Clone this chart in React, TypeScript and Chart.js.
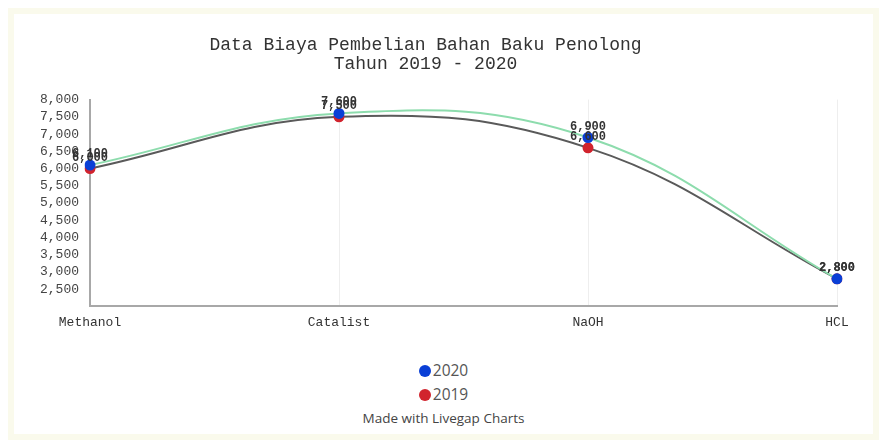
import React, { useEffect, useRef } from "react";
import { Chart, registerables } from "chart.js";

Chart.register(...registerables);

const categories = ["Methanol", "Catalist", "NaOH", "HCL"];
const values2020 = [6100, 7600, 6900, 2800];
const values2019 = [6000, 7500, 6600, 2800];
const seriesNames = ["2020", "2019"];
const titleLines = ["Data Biaya Pembelian Bahan Baku Penolong", "Tahun 2019 - 2020"];
const footerText = "Made with Livegap Charts";

const MONO = "'Liberation Mono', 'Courier New', monospace";

const fmt = (v: number) => v.toLocaleString("en-US");

const valueLabels = {
  id: "valueLabels",
  afterDatasetsDraw(chart: any) {
    const ctx = chart.ctx;
    ctx.save();
    ctx.font = `bold 12px ${MONO}`;
    ctx.fillStyle = "#333";
    ctx.textAlign = "center";
    ctx.textBaseline = "bottom";
    for (let i = chart.data.datasets.length - 1; i >= 0; i--) {
      const meta = chart.getDatasetMeta(i);
      meta.data.forEach((pt: any, j: number) => {
        const v = chart.data.datasets[i].data[j] as number;
        ctx.fillText(fmt(v), pt.x, pt.y - 5);
      });
    }
    ctx.restore();
  },
};

export default function App() {
  const ref = useRef<HTMLCanvasElement>(null);
  useEffect(() => {
    if (!ref.current) return;
    const chart = new Chart(ref.current, {
      type: "line",
      data: {
        labels: categories,
        datasets: [
          {
            label: seriesNames[0],
            data: values2020,
            borderColor: "#8ddcad",
            backgroundColor: "#0a3fd6",
            pointBackgroundColor: "#0a3fd6",
            pointBorderWidth: 0,
            pointRadius: 5.5,
            borderWidth: 2,
            tension: 0.4,
            fill: false,
          },
          {
            label: seriesNames[1],
            data: values2019,
            borderColor: "#5a5a5a",
            backgroundColor: "#d1232d",
            pointBackgroundColor: "#d1232d",
            pointBorderWidth: 0,
            pointRadius: 5.5,
            borderWidth: 2,
            tension: 0.4,
            fill: false,
          },
        ],
      },
      options: {
        responsive: false,
        animation: false,
        layout: { padding: { left: 0, right: 36, top: 0, bottom: 0 } },
        plugins: {
          legend: { display: false },
          tooltip: { enabled: false },
          title: {
            display: true,
            text: titleLines,
            color: "#333",
            font: { family: MONO, size: 18, weight: "normal", lineHeight: 1.1 },
            padding: { top: 21, bottom: 25 },
          },
        },
        scales: {
          x: {
            offset: false,
            grid: { display: true, color: "#eeeeee", drawTicks: false },
            border: { display: true, color: "#a8a8a8", width: 2 },
            ticks: {
              color: "#333",
              font: { family: MONO, size: 13 },
              padding: 8,
              maxRotation: 0,
            },
          },
          y: {
            min: 2000,
            max: 8000,
            grid: { display: false, drawTicks: false },
            border: { display: true, color: "#a8a8a8", width: 2 },
            afterFit: (s: any) => {
              s.width = 76;
            },
            ticks: {
              stepSize: 500,
              autoSkip: false,
              color: "#444",
              font: { family: MONO, size: 13 },
              padding: 11,
              callback: (v: any) => (Number(v) === 2000 ? "" : fmt(Number(v))),
            },
          },
        },
      },
      plugins: [valueLabels],
    });
    return () => chart.destroy();
  }, []);

  const dot = (c: string) => (
    <span
      style={{
        display: "inline-block",
        width: 12,
        height: 12,
        borderRadius: "50%",
        background: c,
        marginRight: 2,
        verticalAlign: "-1px",
      }}
    />
  );

  return (
    <div style={{ border: "6px solid #fafaec", background: "#fff", width: 859, height: 420 }}>
      <canvas ref={ref} width={859} height={324} style={{ display: "block" }} />
      <div
        style={{
          fontFamily: "'Open Sans', sans-serif",
          color: "#555",
          textAlign: "center",
          fontSize: 15.5,
          lineHeight: "24px",
          marginTop: 20,
        }}
      >
        <div>{dot("#0a3fd6")}{seriesNames[0]}</div>
        <div>{dot("#d1232d")}{seriesNames[1]}</div>
        <div style={{ fontSize: 13.5, color: "#444", lineHeight: "24px" }}>{footerText}</div>
      </div>
    </div>
  );
}
